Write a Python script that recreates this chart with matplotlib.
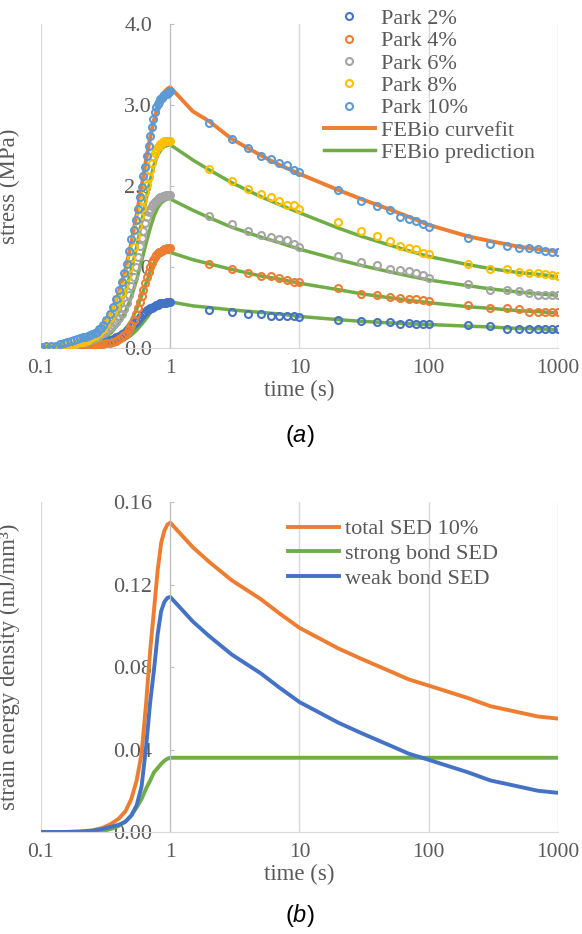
import matplotlib
matplotlib.use("Agg")
import matplotlib.pyplot as plt
import numpy as np

plt.rcParams['font.family'] = 'Liberation Serif'
plt.rcParams['mathtext.fontset'] = 'custom'
plt.rcParams['mathtext.it'] = 'Liberation Sans:italic'
plt.rcParams['mathtext.rm'] = 'Liberation Sans'

# ---- (a) stress relaxation, Park experiments ----
# ramp sampling (0.01 s steps up to 0.3 s, then 0.02 s)
t_ramp = np.round(np.concatenate((np.arange(0.10, 0.295, 0.01), np.arange(0.30, 1.005, 0.02))), 2)
t_hold = [2, 3, 4, 5, 6, 7, 8, 9, 10, 20, 30, 40, 50, 60, 70, 80, 90, 100,
          200, 300, 400, 500, 600, 700, 800, 900, 1000]

park2_ramp = [0.00, 0.00, 0.00, 0.00, 0.00, 0.01, 0.01, 0.01, 0.01, 0.02, 0.02, 0.02, 0.02, 0.03, 0.03,
              0.03, 0.04, 0.04, 0.05, 0.05,
              0.06, 0.07, 0.10, 0.11, 0.13, 0.15, 0.17, 0.19, 0.22, 0.24, 0.27, 0.30, 0.32, 0.35, 0.38,
              0.41, 0.43, 0.45, 0.47, 0.48, 0.49, 0.50, 0.51, 0.52, 0.53, 0.53, 0.54, 0.55, 0.55, 0.56,
              0.56, 0.56, 0.57, 0.57, 0.57, 0.57]
park4_ramp = [0.00, 0.00, 0.00, 0.00, 0.01, 0.01, 0.01, 0.01, 0.02, 0.02, 0.02, 0.02, 0.03, 0.03, 0.03,
              0.04, 0.04, 0.04, 0.05, 0.05,
              0.05, 0.06, 0.06, 0.07, 0.09, 0.11, 0.13, 0.16, 0.19, 0.23, 0.29, 0.35, 0.42, 0.50, 0.57,
              0.64, 0.72, 0.80, 0.88, 0.94, 1.00, 1.05, 1.09, 1.12, 1.15, 1.17, 1.18, 1.19, 1.20, 1.21,
              1.22, 1.22, 1.23, 1.23, 1.23, 1.23]
park6_ramp = [0.00, 0.01, 0.01, 0.01, 0.01, 0.02, 0.02, 0.03, 0.04, 0.05, 0.06, 0.07, 0.08, 0.09, 0.10,
              0.11, 0.12, 0.14, 0.15, 0.17,
              0.18, 0.21, 0.25, 0.28, 0.32, 0.37, 0.42, 0.48, 0.55, 0.65, 0.76, 0.88, 1.00, 1.12, 1.26,
              1.36, 1.45, 1.54, 1.62, 1.68, 1.72, 1.75, 1.78, 1.80, 1.82, 1.84, 1.85, 1.86, 1.87, 1.88,
              1.88, 1.89, 1.89, 1.89, 1.89, 1.89]
park8_ramp = [0.01, 0.01, 0.01, 0.02, 0.02, 0.02, 0.03, 0.04, 0.05, 0.06, 0.07, 0.08, 0.09, 0.10, 0.12,
              0.13, 0.15, 0.17, 0.19, 0.22,
              0.24, 0.30, 0.37, 0.44, 0.51, 0.59, 0.68, 0.77, 0.88, 0.99, 1.11, 1.25, 1.38, 1.51, 1.63,
              1.73, 1.83, 1.92, 2.01, 2.11, 2.20, 2.28, 2.36, 2.41, 2.46, 2.48, 2.50, 2.52, 2.53, 2.54,
              2.55, 2.55, 2.56, 2.56, 2.56, 2.56]
park10_ramp = [0.01, 0.02, 0.02, 0.03, 0.05, 0.06, 0.08, 0.09, 0.10, 0.11, 0.12, 0.13, 0.14, 0.15, 0.16,
               0.17, 0.19, 0.20, 0.23, 0.25,
               0.28, 0.34, 0.42, 0.51, 0.61, 0.71, 0.81, 0.92, 1.04, 1.20, 1.35, 1.46, 1.58, 1.72, 1.86,
               1.99, 2.12, 2.24, 2.37, 2.49, 2.62, 2.73, 2.83, 2.91, 2.97, 3.01, 3.04, 3.07, 3.09, 3.11,
               3.12, 3.13, 3.14, 3.15, 3.16, 3.17]

park2_hold = [0.47, 0.44, 0.42, 0.42, 0.40, 0.39, 0.40, 0.39, 0.38, 0.35, 0.33, 0.32, 0.32, 0.30, 0.31,
              0.30, 0.30, 0.30, 0.28, 0.27, 0.24, 0.24, 0.24, 0.24, 0.24, 0.23, 0.23]
park4_hold = [1.04, 0.97, 0.93, 0.89, 0.89, 0.86, 0.84, 0.82, 0.81, 0.74, 0.67, 0.65, 0.63, 0.62, 0.61,
              0.60, 0.59, 0.58, 0.53, 0.49, 0.49, 0.48, 0.45, 0.45, 0.45, 0.44, 0.44]
park6_hold = [1.63, 1.53, 1.44, 1.39, 1.37, 1.34, 1.33, 1.28, 1.25, 1.13, 1.06, 1.02, 0.98, 0.96, 0.95,
              0.92, 0.90, 0.87, 0.79, 0.71, 0.71, 0.70, 0.68, 0.66, 0.66, 0.65, 0.65]
park8_hold = [2.21, 2.06, 1.96, 1.90, 1.86, 1.82, 1.77, 1.77, 1.72, 1.55, 1.45, 1.38, 1.32, 1.26, 1.24,
              1.22, 1.17, 1.16, 1.04, 0.98, 0.97, 0.94, 0.93, 0.93, 0.91, 0.90, 0.89]
park10_hold = [2.78, 2.58, 2.47, 2.37, 2.33, 2.28, 2.26, 2.20, 2.17, 1.95, 1.82, 1.75, 1.70, 1.62, 1.59,
               1.57, 1.53, 1.50, 1.36, 1.29, 1.26, 1.24, 1.23, 1.22, 1.20, 1.19, 1.18]

# FEBio model curves
t_model = [0.10, 0.15, 0.20, 0.25, 0.30, 0.35, 0.40, 0.45, 0.50, 0.55, 0.60, 0.65, 0.70, 0.75, 0.80,
           0.85, 0.90, 0.95, 1.00, 1.5, 2, 3, 5, 7, 10, 20, 30, 50, 70, 100, 200, 300, 500, 700, 1000]
fit10 = [0.00, 0.03, 0.08, 0.16, 0.28, 0.45, 0.68, 0.97, 1.30, 1.65, 2.00, 2.32, 2.60, 2.82, 2.98,
         3.09, 3.16, 3.20, 3.22, 2.92, 2.80, 2.58, 2.38, 2.26, 2.15, 1.95, 1.84, 1.71, 1.62, 1.52,
         1.38, 1.32, 1.25, 1.22, 1.19]
pred8 = [0.00, 0.01, 0.04, 0.09, 0.17, 0.30, 0.47, 0.70, 0.96, 1.25, 1.55, 1.83, 2.07, 2.26, 2.38,
         2.45, 2.49, 2.50, 2.51, 2.32, 2.20, 2.04, 1.87, 1.77, 1.67, 1.48, 1.38, 1.27, 1.20, 1.13,
         1.03, 0.98, 0.93, 0.91, 0.88]
pred6 = [0.00, 0.01, 0.03, 0.06, 0.11, 0.19, 0.30, 0.45, 0.63, 0.84, 1.07, 1.29, 1.48, 1.63, 1.73,
         1.79, 1.82, 1.84, 1.84, 1.70, 1.61, 1.49, 1.37, 1.30, 1.22, 1.09, 1.02, 0.94, 0.89, 0.84,
         0.77, 0.73, 0.69, 0.67, 0.65]
pred4 = [0.00, 0.00, 0.01, 0.03, 0.05, 0.09, 0.15, 0.23, 0.34, 0.48, 0.64, 0.80, 0.94, 1.05, 1.12,
         1.16, 1.18, 1.18, 1.18, 1.09, 1.04, 0.97, 0.89, 0.85, 0.80, 0.72, 0.67, 0.62, 0.59, 0.56,
         0.51, 0.49, 0.46, 0.45, 0.43]
pred2 = [0.00, 0.00, 0.00, 0.01, 0.02, 0.04, 0.07, 0.11, 0.16, 0.22, 0.29, 0.36, 0.43, 0.49, 0.53,
         0.55, 0.56, 0.57, 0.57, 0.52, 0.50, 0.47, 0.44, 0.42, 0.39, 0.35, 0.33, 0.31, 0.30, 0.29,
         0.27, 0.26, 0.24, 0.24, 0.22]

# ---- (b) strain energy density, 10% ----
sed_total = [0.0, 0.0, 0.0002, 0.0008, 0.002, 0.004, 0.0065, 0.010, 0.016, 0.025, 0.038, 0.062, 0.088,
             0.108, 0.127, 0.140, 0.146, 0.149, 0.150, 0.138, 0.131, 0.122, 0.113, 0.106, 0.099, 0.089,
             0.084, 0.078, 0.074, 0.071, 0.065, 0.061, 0.058, 0.056, 0.055]
sed_strong = [0.0, 0.0, 0.0, 0.0002, 0.0005, 0.0015, 0.003, 0.005, 0.008, 0.012, 0.016, 0.021, 0.025,
              0.029, 0.031, 0.033, 0.0345, 0.0355, 0.036, 0.036, 0.036, 0.036, 0.036, 0.036, 0.036,
              0.036, 0.036, 0.036, 0.036, 0.036, 0.036, 0.036, 0.036, 0.036, 0.036]
sed_weak = [0.0, 0.0, 0.0002, 0.0006, 0.0015, 0.0025, 0.0035, 0.005, 0.008, 0.013, 0.022, 0.041, 0.063,
            0.079, 0.096, 0.107, 0.1115, 0.1135, 0.114, 0.102, 0.095, 0.086, 0.077, 0.070, 0.063, 0.053,
            0.048, 0.042, 0.038, 0.035, 0.029, 0.025, 0.022, 0.020, 0.019]

x_ticks = [0.1, 1, 10, 100, 1000]
x_labels = ['0.1', '1', '10', '100', '1000']

BLUE, ORANGE, GRAY, YELLOW, LBLUE, GREEN = '#4472C4', '#ED7D31', '#A5A5A5', '#FFC000', '#5B9BD5', '#70AD47'
TXT = '#595959'


def style_axes(ax, ymax, yticks, ylabels):
    ax.set_xscale('log')
    ax.set_xlim(0.1, 1000)
    ax.set_ylim(0, ymax)
    ax.set_axisbelow(True)
    for s in ['top', 'right']:
        ax.spines[s].set_visible(False)
    ax.spines['left'].set_position(('data', 1))
    ax.spines['left'].set_color('#BFBFBF')
    ax.spines['bottom'].set_color('#D9D9D9')
    ax.set_xticks(x_ticks)
    ax.set_xticklabels(x_labels)
    ax.xaxis.set_minor_locator(matplotlib.ticker.NullLocator())
    ax.set_yticks(yticks)
    ax.set_yticklabels(ylabels)
    ax.grid(axis='x', color='#D9D9D9', lw=1)
    ax.tick_params(axis='x', length=0, pad=8, labelsize=15.5, labelcolor=TXT)
    ax.tick_params(axis='y', direction='in', length=3, color='#BFBFBF', pad=13,
                   labelsize=16, labelcolor=TXT)
    ax.set_xlabel('time (s)', fontsize=16.5, color=TXT, labelpad=1)


fig = plt.figure(figsize=(5.82, 9.34), dpi=100)

ax1 = fig.add_axes([0.0704, 0.6274, 0.8883, 0.3469])
style_axes(ax1, 4.0, [0, 1, 2, 3, 4], ['0.0', '1.0', '2.0', '3.0', '4.0'])

ax1.plot(t_model, fit10, color=ORANGE, lw=2.8, label='FEBio curvefit', zorder=2)
ax1.plot(t_model, pred8, color=GREEN, lw=2.5, label='FEBio prediction', zorder=2)
ax1.plot(t_model, pred6, color=GREEN, lw=2.5, zorder=2)
ax1.plot(t_model, pred4, color=GREEN, lw=2.5, zorder=2)
ax1.plot(t_model, pred2, color=GREEN, lw=2.5, zorder=2)

park = [(park2_ramp, park2_hold, BLUE, 'Park 2%'),
        (park4_ramp, park4_hold, ORANGE, 'Park 4%'),
        (park6_ramp, park6_hold, GRAY, 'Park 6%'),
        (park8_ramp, park8_hold, YELLOW, 'Park 8%'),
        (park10_ramp, park10_hold, LBLUE, 'Park 10%')]
for ramp, hold, c, lab in park:
    t = list(t_ramp) + t_hold
    ax1.plot(t, ramp + hold, ls='none', marker='o', ms=5, mfc='none', mec=c, mew=1.5,
             label=lab, zorder=3)

ax1.set_ylabel('stress (MPa)', fontsize=16.5, color=TXT)
ax1.yaxis.set_label_coords(-0.04, 0.5)
h, l = ax1.get_legend_handles_labels()
order = [2, 3, 4, 5, 6, 0, 1]
ax1.legend([h[i] for i in order], [l[i] for i in order], loc='upper left',
           bbox_to_anchor=(0.53, 1.075), frameon=False, fontsize=16, handlelength=2.3,
           handletextpad=0.25, labelspacing=0.08, borderaxespad=0, labelcolor=TXT)

fig.text(0.515, 0.533, r'($\mathit{a}$)', family='Liberation Sans', fontsize=17,
         ha='center', va='center')

ax2 = fig.add_axes([0.0704, 0.1092, 0.8883, 0.3533])
style_axes(ax2, 0.16, [0, 0.04, 0.08, 0.12, 0.16], ['0.00', '0.04', '0.08', '0.12', '0.16'])
ax2.plot(t_model, sed_total, color=ORANGE, lw=2.8, label='total SED 10%')
ax2.plot(t_model, sed_strong, color=GREEN, lw=2.8, label='strong bond SED')
ax2.plot(t_model, sed_weak, color=BLUE, lw=2.8, label='weak bond SED')
ax2.set_ylabel('strain energy density (mJ/mm³)', fontsize=16.5, color=TXT)
ax2.yaxis.set_label_coords(-0.04, 0.5)
ax2.legend(loc='upper left', bbox_to_anchor=(0.461, 0.976), frameon=False, fontsize=16,
           handlelength=2.3, handletextpad=0.25, labelspacing=0.18, borderaxespad=0,
           labelcolor=TXT)

fig.text(0.515, 0.0203, r'($\mathit{b}$)', family='Liberation Sans', fontsize=17,
         ha='center', va='center')

fig.savefig('out.png', dpi=100)
